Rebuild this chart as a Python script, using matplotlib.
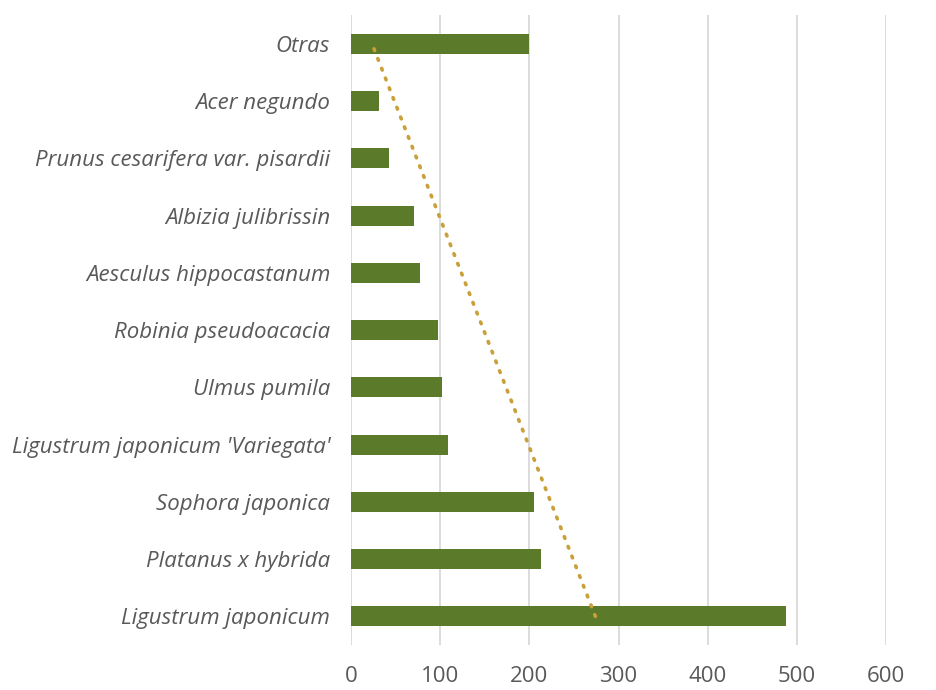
import matplotlib
matplotlib.use("Agg")
import matplotlib.pyplot as plt
import numpy as np

species = ["Ligustrum japonicum", "Platanus x hybrida", "Sophora japonica",
           "Ligustrum japonicum 'Variegata'", "Ulmus pumila", "Robinia pseudoacacia",
           "Aesculus hippocastanum", "Albizia julibrissin",
           "Prunus cesarifera var. pisardii", "Acer negundo", "Otras"]
counts = [488, 213, 205, 109, 102, 98, 77, 71, 43, 31, 200]
xticks = [0, 100, 200, 300, 400, 500, 600]

plt.rcParams['font.family'] = ['Open Sans', 'DejaVu Sans']
fig = plt.figure(figsize=(9.37, 6.9), dpi=100)
ax = fig.add_axes([0.3746, 0.0652, 0.571, 0.9128])

y = np.arange(len(species))
ax.barh(y, counts, height=0.35, color='#5B7A2A', zorder=3)

# linear trendline (least squares on category index)
coef = np.polyfit(y, counts, 1)
trend = np.polyval(coef, y)
ax.plot(trend, y, linestyle=(0, (0.5, 2.4)), color='#C9A03A', lw=2.6,
        dash_capstyle='round', zorder=4)

ax.set_xlim(0, 600)
ax.set_ylim(-0.5, len(species) - 0.5)
ax.set_xticks(xticks)
ax.set_xticklabels([str(t) for t in xticks])
ax.set_yticks(y)
ax.set_yticklabels(species, style='italic')
ax.grid(axis='x', color='#D9D9D9', lw=1.3, zorder=0)
for s in ax.spines.values():
    s.set_visible(False)
ax.tick_params(axis='both', length=0, labelsize=16, colors='#595959')
ax.tick_params(axis='x', pad=15)
ax.tick_params(axis='y', pad=15)

fig.savefig("out.png", dpi=100)
